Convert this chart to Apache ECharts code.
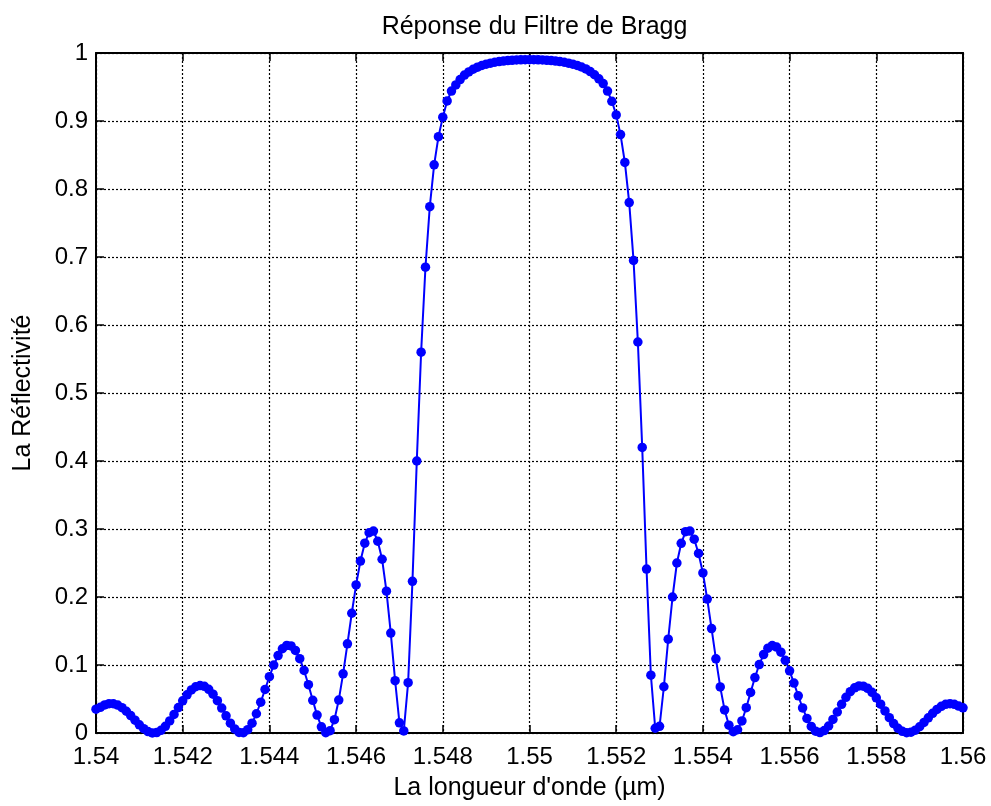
<!DOCTYPE html>
<html>
<head>
<meta charset="utf-8">
<script src="https://cdn.jsdelivr.net/npm/echarts@6/dist/echarts.min.js"></script>
<style>
html,body{margin:0;padding:0;background:#fff;}
#main{width:991px;height:806px;}
</style>
</head>
<body>
<div id="main"></div>
<script>
// Wavelength samples (µm)
const wavelength = [
1.5400,1.5401,1.5402,1.5403,1.5404,1.5405,1.5406,1.5407,1.5408,1.5409,
1.5410,1.5411,1.5412,1.5413,1.5414,1.5415,1.5416,1.5417,1.5418,1.5419,
1.5420,1.5421,1.5422,1.5423,1.5424,1.5425,1.5426,1.5427,1.5428,1.5429,
1.5430,1.5431,1.5432,1.5433,1.5434,1.5435,1.5436,1.5437,1.5438,1.5439,
1.5440,1.5441,1.5442,1.5443,1.5444,1.5445,1.5446,1.5447,1.5448,1.5449,
1.5450,1.5451,1.5452,1.5453,1.5454,1.5455,1.5456,1.5457,1.5458,1.5459,
1.5460,1.5461,1.5462,1.5463,1.5464,1.5465,1.5466,1.5467,1.5468,1.5469,
1.5470,1.5471,1.5472,1.5473,1.5474,1.5475,1.5476,1.5477,1.5478,1.5479,
1.5480,1.5481,1.5482,1.5483,1.5484,1.5485,1.5486,1.5487,1.5488,1.5489,
1.5490,1.5491,1.5492,1.5493,1.5494,1.5495,1.5496,1.5497,1.5498,1.5499,
1.5500,
1.5501,1.5502,1.5503,1.5504,1.5505,1.5506,1.5507,1.5508,1.5509,1.5510,
1.5511,1.5512,1.5513,1.5514,1.5515,1.5516,1.5517,1.5518,1.5519,1.5520,
1.5521,1.5522,1.5523,1.5524,1.5525,1.5526,1.5527,1.5528,1.5529,1.5530,
1.5531,1.5532,1.5533,1.5534,1.5535,1.5536,1.5537,1.5538,1.5539,1.5540,
1.5541,1.5542,1.5543,1.5544,1.5545,1.5546,1.5547,1.5548,1.5549,1.5550,
1.5551,1.5552,1.5553,1.5554,1.5555,1.5556,1.5557,1.5558,1.5559,1.5560,
1.5561,1.5562,1.5563,1.5564,1.5565,1.5566,1.5567,1.5568,1.5569,1.5570,
1.5571,1.5572,1.5573,1.5574,1.5575,1.5576,1.5577,1.5578,1.5579,1.5580,
1.5581,1.5582,1.5583,1.5584,1.5585,1.5586,1.5587,1.5588,1.5589,1.5590,
1.5591,1.5592,1.5593,1.5594,1.5595,1.5596,1.5597,1.5598,1.5599,1.5600
];

// Reflectivity
const reflectivity = [
0.0350,0.0378,0.0413,0.0431,0.0430,0.0411,0.0373,0.0320,0.0257,0.0188,
0.0121,0.0063,0.0021,0.0001,0.0007,0.0040,0.0098,0.0178,0.0273,0.0374,
0.0474,0.0562,0.0633,0.0680,0.0698,0.0686,0.0642,0.0571,0.0476,0.0366,
0.0252,0.0145,0.0060,0.0009,0.0004,0.0049,0.0144,0.0283,0.0453,0.0640,
0.0828,0.0999,0.1139,0.1239,0.1288,0.1281,0.1215,0.1093,0.0920,0.0710,
0.0481,0.0263,0.0091,0.0004,0.0034,0.0196,0.0484,0.0870,0.1311,0.1761,
0.2178,0.2529,0.2791,0.2945,0.2970,0.2820,0.2555,0.2085,0.1470,0.0770,
0.0150,0.0030,0.0740,0.2230,0.4000,0.5600,0.6850,0.7740,0.8355,0.8770,
0.9056,0.9295,0.9440,0.9530,0.9610,0.9675,0.9721,0.9761,0.9791,0.9816,
0.9835,0.9851,0.9864,0.9874,0.9882,0.9888,0.9893,0.9897,0.9899,0.9901,
0.9901,
0.9901,0.9899,0.9897,0.9893,0.9888,0.9882,0.9874,0.9864,0.9851,0.9836,
0.9818,0.9794,0.9765,0.9727,0.9680,0.9620,0.9550,0.9440,0.9290,0.9090,
0.8800,0.8390,0.7800,0.6950,0.5750,0.4200,0.2410,0.0850,0.0070,0.0098,
0.0680,0.1380,0.2000,0.2500,0.2790,0.2960,0.2970,0.2850,0.2640,0.2354,
0.1970,0.1536,0.1091,0.0677,0.0340,0.0115,0.0019,0.0048,0.0177,0.0372,
0.0596,0.0815,0.1007,0.1154,0.1248,0.1285,0.1264,0.1189,0.1069,0.0914,
0.0734,0.0547,0.0368,0.0214,0.0097,0.0027,0.0007,0.0035,0.0103,0.0199,
0.0309,0.0421,0.0524,0.0607,0.0664,0.0692,0.0689,0.0657,0.0598,0.0518,
0.0424,0.0324,0.0226,0.0138,0.0069,0.0024,0.0004,0.0011,0.0042,0.0092,
0.0155,0.0223,0.0289,0.0347,0.0392,0.0421,0.0431,0.0422,0.0396,0.0370
];

const titleText = 'Réponse du Filtre de Bragg';
const xLabel = "La longueur d'onde (µm)";
const yLabel = 'La Réflectivité';

const FONT = '"Liberation Sans", Arial, Helvetica, sans-serif';
const fmt = v => String(parseFloat(Number(v).toFixed(4)));

const points = wavelength.map((w, i) => [w, reflectivity[i]]);

const chart = echarts.init(document.getElementById('main'), null, {renderer: 'canvas'});

const gridLine = {show: true, lineStyle: {color: '#000', width: 1.2, type: [2, 2]}};
const axLine = {show: true, onZero: false, lineStyle: {color: '#000', width: 2}};
const tick = {show: true, inside: true, length: 8, lineStyle: {color: '#000', width: 1.5}};

chart.setOption({
  animation: false,
  backgroundColor: '#ffffff',
  title: {
    text: titleText,
    left: 529.5,
    top: 10,
    textAlign: 'center',
    textStyle: {fontFamily: FONT, fontSize: 25, fontWeight: 'normal', color: '#000'}
  },
  grid: {left: 96, right: 28, top: 53, bottom: 72, containLabel: false},
  xAxis: [{
    type: 'value', min: 1.54, max: 1.56, interval: 0.002, position: 'bottom',
    axisLine: axLine, axisTick: tick, splitLine: gridLine,
    axisLabel: {color: '#000', fontFamily: FONT, fontSize: 24, margin: 12, formatter: fmt},
    name: xLabel, nameLocation: 'middle', nameGap: 43,
    nameTextStyle: {color: '#000', fontFamily: FONT, fontSize: 25}
  }, {
    type: 'value', min: 1.54, max: 1.56, interval: 0.002, position: 'top',
    axisLine: axLine, axisTick: tick, splitLine: {show: false}, axisLabel: {show: false}
  }],
  yAxis: [{
    type: 'value', min: 0, max: 1, interval: 0.1, position: 'left',
    axisLine: axLine, axisTick: tick, splitLine: gridLine,
    axisLabel: {color: '#000', fontFamily: FONT, fontSize: 24, margin: 8, formatter: fmt},
    name: yLabel, nameLocation: 'middle', nameGap: 60, nameRotate: 90,
    nameTextStyle: {color: '#000', fontFamily: FONT, fontSize: 25}
  }, {
    type: 'value', min: 0, max: 1, interval: 0.1, position: 'right',
    axisLine: axLine, axisTick: tick, splitLine: {show: false}, axisLabel: {show: false}
  }],
  series: [{
    type: 'line',
    data: points,
    xAxisIndex: 0, yAxisIndex: 0,
    clip: false,
    showSymbol: true, showAllSymbol: true,
    symbol: 'circle', symbolSize: 9.5,
    lineStyle: {color: '#0000ff', width: 2},
    itemStyle: {color: '#0000ff', borderWidth: 0},
    z: 5
  }]
});
</script>
</body>
</html>
